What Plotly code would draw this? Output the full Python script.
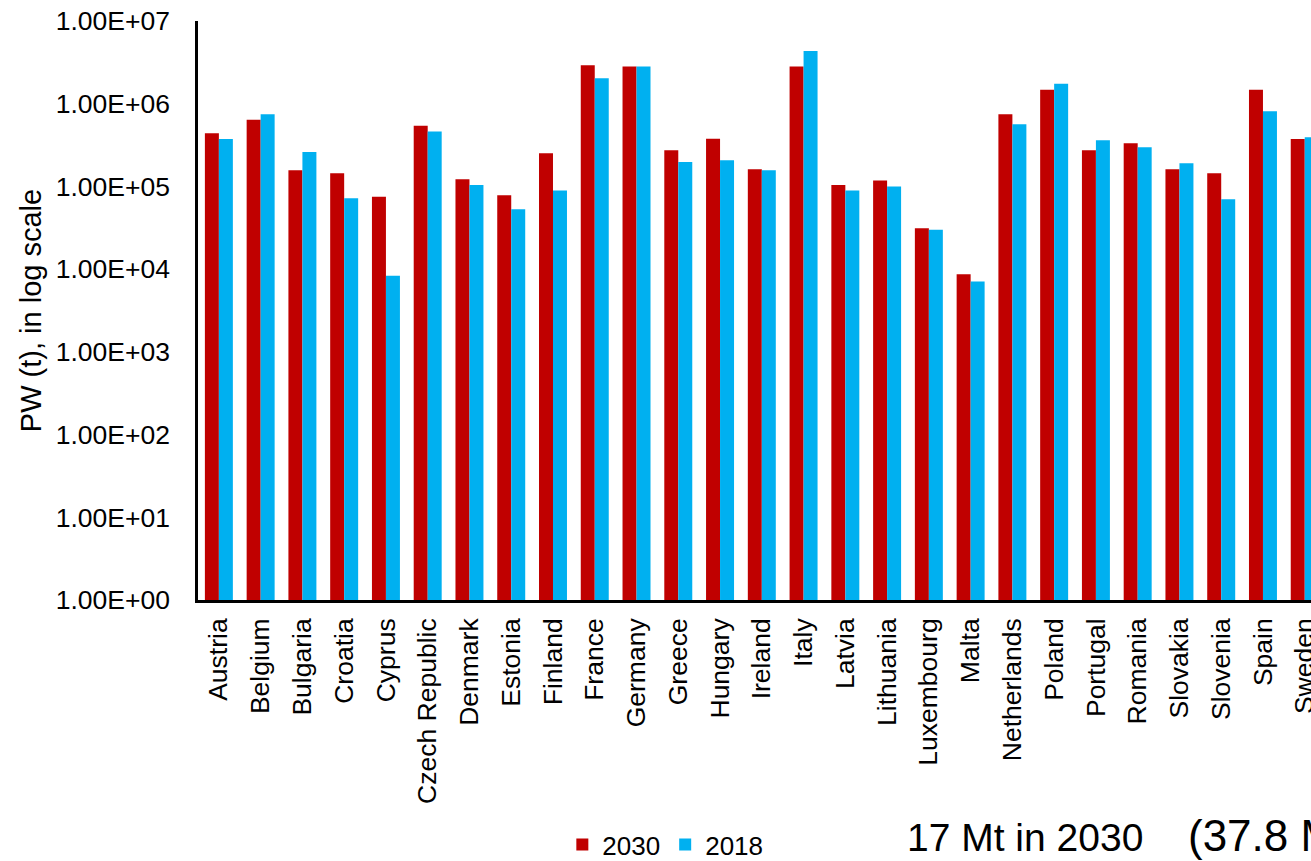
import plotly.graph_objects as go

# Packaging waste (PW) per EU member state, tonnes, log scale
countries = [
    "Austria", "Belgium", "Bulgaria", "Croatia", "Cyprus", "Czech Republic",
    "Denmark", "Estonia", "Finland", "France", "Germany", "Greece", "Hungary",
    "Ireland", "Italy", "Latvia", "Lithuania", "Luxembourg", "Malta",
    "Netherlands", "Poland", "Portugal", "Romania", "Slovakia", "Slovenia",
    "Spain", "Sweden",
]

pw_2030 = [
    4.4e5, 6.4e5, 1.57e5, 1.44e5, 7.5e4, 5.4e5,
    1.22e5, 7.8e4, 2.52e5, 2.92e6, 2.81e6, 2.74e5, 3.78e5,
    1.61e5, 2.81e6, 1.04e5, 1.18e5, 3.12e4, 8.7e3,
    7.47e5, 1.48e6, 2.74e5, 3.33e5, 1.61e5, 1.44e5,
    1.48e6, 3.75e5,
]

pw_2018 = [
    3.75e5, 7.47e5, 2.61e5, 7.2e4, 8.3e3, 4.6e5,
    1.04e5, 5.3e4, 8.9e4, 2.03e6, 2.81e6, 1.98e5, 2.07e5,
    1.57e5, 4.35e6, 8.9e4, 1.0e5, 3.0e4, 7.1e3,
    5.65e5, 1.74e6, 3.62e5, 2.98e5, 1.91e5, 7.0e4,
    8.1e5, 3.93e5,
]

y_tickvals = [1, 10, 100, 1e3, 1e4, 1e5, 1e6, 1e7]
y_ticktext = ["1.00E+00", "1.00E+01", "1.00E+02", "1.00E+03",
              "1.00E+04", "1.00E+05", "1.00E+06", "1.00E+07"]

RED = "#C00000"
BLUE = "#00B0F0"
FONT = "Liberation Sans, Arial, sans-serif"

W, H = 1311, 861
L, R, T, B = 197.5, 0, 21, 261
PW = W - L - R
PH = H - T - B


def px_x(x):
    return (x - L) / PW


def px_y(y):
    return (H - B - y) / PH


fig = go.Figure()
fig.add_trace(go.Bar(name="2030", x=countries, y=pw_2030,
                     marker=dict(color=RED, line=dict(width=0))))
fig.add_trace(go.Bar(name="2018", x=countries, y=pw_2018,
                     marker=dict(color=BLUE, line=dict(width=0))))

fig.update_layout(
    width=W, height=H,
    margin=dict(l=L, r=R, t=T, b=B, autoexpand=False),
    paper_bgcolor="white", plot_bgcolor="white",
    barmode="group", bargap=0.33, bargroupgap=0,
    font=dict(family=FONT, color="#000000"),
    showlegend=True,
    legend=dict(orientation="h", x=px_x(562), y=px_y(821),
                xanchor="left", yanchor="top",
                font=dict(size=26, family=FONT, color="#000000"),
                itemwidth=30, tracegroupgap=0,
                bgcolor="rgba(0,0,0,0)"),
)

fig.update_xaxes(
    type="category",
    range=[-0.5, 26.15],
    tickangle=-90,
    tickfont=dict(size=26.5, family=FONT, color="#000000"),
    showline=True, linecolor="#000000", linewidth=2.5,
    showgrid=False, ticks="", ticklabelstandoff=5,
    automargin=False, zeroline=False,
)

fig.update_yaxes(
    type="log",
    range=[0, 7],
    tickvals=y_tickvals, ticktext=y_ticktext,
    tickfont=dict(size=26.5, family=FONT, color="#000000"),
    showline=True, linecolor="#000000", linewidth=2.5,
    showgrid=False, ticks="", ticklabelstandoff=20,
    automargin=False, zeroline=False,
    title=dict(text="PW (t), in log scale",
               font=dict(size=29, family=FONT, color="#000000"),
               standoff=6),
)

fig.add_annotation(text="17 Mt in 2030", xref="paper", yref="paper",
                   x=px_x(905), y=px_y(837), xanchor="left", yanchor="middle",
                   showarrow=False,
                   font=dict(size=39, family=FONT, color="#000000"))
fig.add_annotation(text="(37.8 Mt in 2018)", xref="paper", yref="paper",
                   x=px_x(1186), y=px_y(835), xanchor="left", yanchor="middle",
                   showarrow=False,
                   font=dict(size=44, family=FONT, color="#000000"))

fig.write_html("out.html", config={"displayModeBar": False})
